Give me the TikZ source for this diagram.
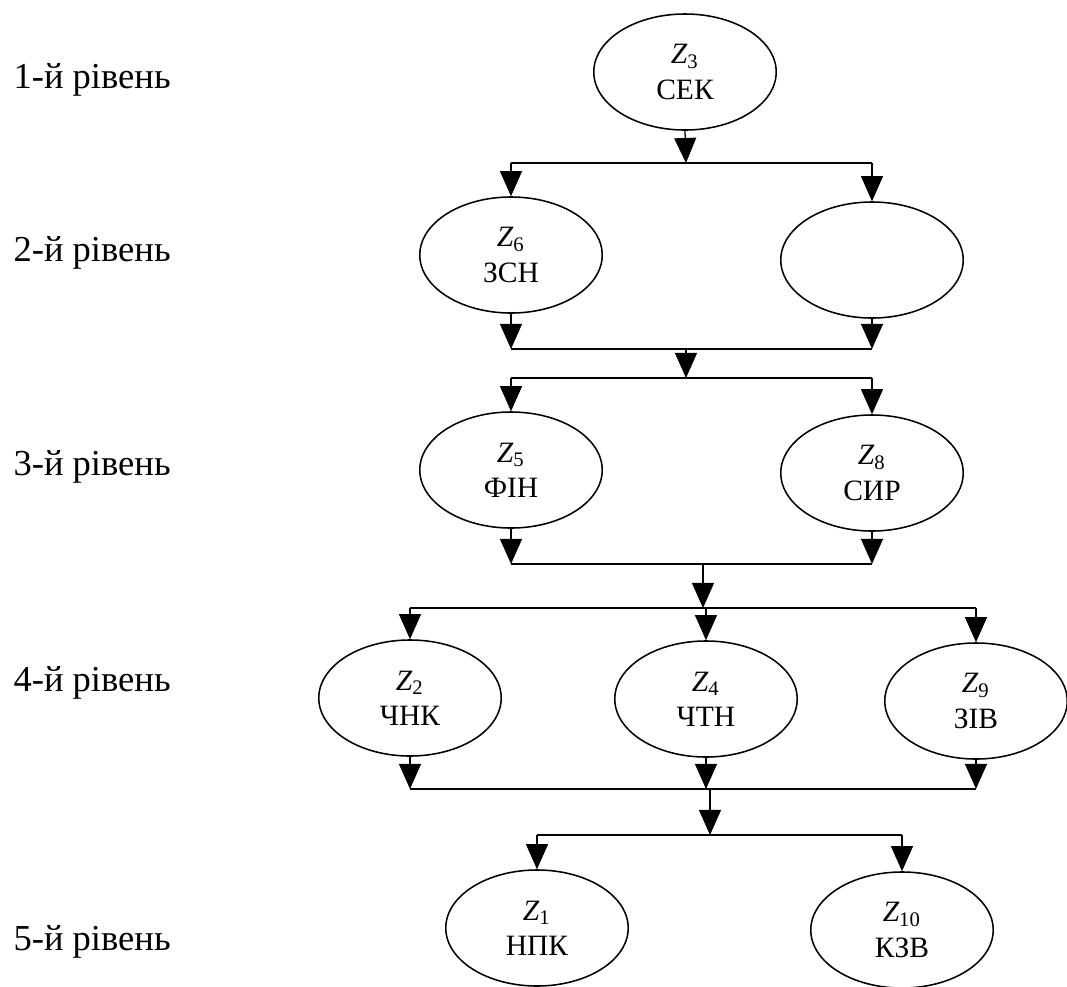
\documentclass[tikz,border=0pt]{standalone}
\usepackage{fontspec}
\setmainfont{Liberation Serif}
\usetikzlibrary{shapes.geometric,arrows.meta}

\tikzset{
  zone/.style={draw, ellipse, line width=0.55pt, minimum width=2.28cm, minimum height=1.45cm,
    inner sep=0pt, align=center, font=\fontsize{10.5}{12.5}\selectfont},
  bus/.style={line width=0.75pt},
  link/.style={->, line width=0.45pt},
  levellabel/.style={anchor=west, inner sep=0pt, font=\fontsize{13}{15}\selectfont},
}
\newcommand{\zi}[1]{{\itshape Z}\textsubscript{#1}}

\begin{document}
\begin{tikzpicture}[x=0.0125cm,y=-0.0125cm,>={Triangle[width=7.8pt,length=8.9pt]}]
   \useasboundingbox (0,0) rectangle (1067,987);
   % рівні
   \node [levellabel] (lv1) at (13,80) {1-й рівень};
   \node [levellabel] (lv2) at (13,253) {2-й рівень};
   \node [levellabel] (lv3) at (13,467) {3-й рівень};
   \node [levellabel] (lv4) at (13,683) {4-й рівень};
   \node [levellabel] (lv5) at (13,942) {5-й рівень};

   % вершини
   \node [zone] (z3) at (685,72) {\zi{3}\\СЕК};
   \node [zone] (z6) at (511,255) {\zi{6}\\ЗСН};
   \node [zone] (z7) at (872,260) {};
   \node [zone] (z5) at (511,470) {\zi{5}\\ФІН};
   \node [zone] (z8) at (872,473) {\zi{8}\\СИР};
   \node [zone] (z2) at (410,698) {\zi{2}\\ЧНК};
   \node [zone] (z4) at (706,699) {\zi{4}\\ЧТН};
   \node [zone] (z9) at (976,701) {\zi{9}\\ЗІВ};
   \node [zone] (z1) at (537,928) {\zi{1}\\НПК};
   \node [zone] (z10) at (902,930) {\zi{10}\\КЗВ};

   % шини
   \coordinate (b1) at (686,163);
   \coordinate (b2) at (686,349);
   \coordinate (b3) at (686,378);
   \coordinate (b4) at (703,564);
   \coordinate (b5) at (703,608);
   \coordinate (b6) at (710,789);
   \coordinate (b7) at (710,835);

   \draw[link] (z3.south) -- (b1);
   \draw[bus] (b1 -| z6) -- (b1 -| z7);
   \draw[link] (b1 -| z6) -- (z6.north);
   \draw[link] (b1 -| z7) -- (z7.north);

   \draw[link] (z6.south) -- (z6 |- b2);
   \draw[link] (z7.south) -- (z7 |- b2);
   \draw[bus] (b2 -| z6) -- (b2 -| z7);
   \draw[link] (b2) -- (b3);
   \draw[bus] (b3 -| z5) -- (b3 -| z8);
   \draw[link] (b3 -| z5) -- (z5.north);
   \draw[link] (b3 -| z8) -- (z8.north);

   \draw[link] (z5.south) -- (z5 |- b4);
   \draw[link] (z8.south) -- (z8 |- b4);
   \draw[bus] (b4 -| z5) -- (b4 -| z8);
   \draw[link] (b4) -- (b5);
   \draw[bus] (b5 -| z2) -- (b5 -| z9);
   \draw[link] (b5 -| z2) -- (z2.north);
   \draw[link] (b5 -| z4) -- (z4.north);
   \draw[link] (b5 -| z9) -- (z9.north);

   \draw[link] (z2.south) -- (z2 |- b6);
   \draw[link] (z4.south) -- (z4 |- b6);
   \draw[link] (z9.south) -- (z9 |- b6);
   \draw[bus] (b6 -| z2) -- (b6 -| z9);
   \draw[link] (b6) -- (b7);
   \draw[bus] (b7 -| z1) -- (b7 -| z10);
   \draw[link] (b7 -| z1) -- (z1.north);
   \draw[link] (b7 -| z10) -- (z10.north);
\end{tikzpicture}
\end{document}
